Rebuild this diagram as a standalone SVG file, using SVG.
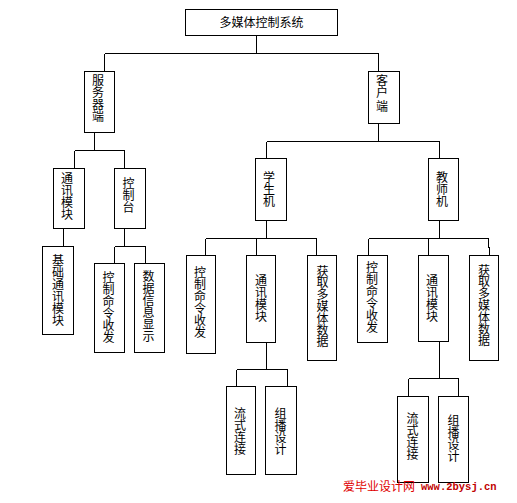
<svg xmlns="http://www.w3.org/2000/svg" width="517" height="503" viewBox="0 0 517 503">
<style>
  .box { fill: #ffffff; stroke: #000000; stroke-width: 1; shape-rendering: crispEdges; }
  .ln { fill: none; stroke: #000000; stroke-width: 1; shape-rendering: crispEdges; }
  .t { font-family: "Noto Sans CJK SC", "Noto Sans", sans-serif; font-size: 12px; fill: #000000; text-anchor: middle; }
  .v { font-family: "Noto Sans CJK SC", "Noto Sans", sans-serif; font-size: 12px; fill: #000000; writing-mode: vertical-rl; text-orientation: mixed; text-anchor: start; }
  .wm1 { font-family: "Noto Sans CJK SC", sans-serif; font-size: 12px; fill: #e00000; }
  .wm2 { font-family: "Liberation Mono", monospace; font-size: 10.5px; font-weight: bold; fill: #c00000; }
</style>
<rect x="0" y="0" width="517" height="503" fill="#ffffff"/>

<g id="connectors">
  <path class="ln" d="M256.5 35.5 V53.5 M104.5 53.5 H378.5 M104.5 53.5 V71.5 M378.5 53.5 V71.5"/>
  <path class="ln" d="M94.5 132.5 V150.5 M74.5 150.5 H124.5 M74.5 150.5 V168.5 M124.5 150.5 V168.5"/>
  <path class="ln" d="M63.5 228.5 V246.5"/>
  <path class="ln" d="M124.5 228.5 V246.5 M114.5 246.5 H145.5 M114.5 246.5 V263.5 M145.5 246.5 V263.5"/>
  <path class="ln" d="M378.5 123.5 V141.5 M266.5 141.5 H439.5 M266.5 141.5 V158.5 M439.5 141.5 V158.5"/>
  <path class="ln" d="M266.5 220.5 V238.5 M205.5 238.5 H316.5 M205.5 238.5 V255.5 M256.5 238.5 V255.5 M316.5 238.5 V255.5"/>
  <path class="ln" d="M266.5 342.5 V369.5 M236.5 369.5 H287.5 M236.5 369.5 V386.5 M287.5 369.5 V386.5"/>
  <path class="ln" d="M439.5 220.5 V238.5 M368.5 238.5 H488.5 M368.5 238.5 V255.5 M428.5 238.5 V255.5 M488.5 238.5 V247.5 H489.5 V255.5"/>
  <path class="ln" d="M439.5 341.5 V378.5 M408.5 378.5 H458.5 M408.5 378.5 V396.5 M458.5 378.5 V396.5"/>
</g>

<g id="root">
  <rect class="box" x="185.5" y="9.5" width="152" height="26"/>
  <text class="t" x="261.5" y="27">多媒体控制系统</text>
</g>

<g id="server">
  <rect class="box" x="84.5" y="71.5" width="30" height="61"/>
  <text class="v" x="98" y="74">服务器端</text>
</g>
<g id="server-comm">
  <rect class="box" x="53.5" y="168.5" width="31" height="60"/>
  <text class="v" x="67" y="172">通讯模块</text>
</g>
<g id="server-console">
  <rect class="box" x="114.5" y="168.5" width="31" height="60"/>
  <text class="v" x="128.5" y="177">控制台</text>
</g>
<g id="server-basic-comm">
  <rect class="box" x="42.5" y="246.5" width="31" height="88"/>
  <text class="v" x="58" y="254">基础通讯模块</text>
</g>
<g id="server-cmd">
  <rect class="box" x="94.5" y="263.5" width="30" height="89"/>
  <text class="v" x="108.5" y="271">控制命令收发</text>
</g>
<g id="server-display">
  <rect class="box" x="134.5" y="263.5" width="30" height="89"/>
  <text class="v" x="148.5" y="270">数据信息显示</text>
</g>

<g id="client">
  <rect class="box" x="368.5" y="71.5" width="31" height="52"/>
  <text class="v" x="382" y="74">客户 端</text>
</g>

<g id="student">
  <rect class="box" x="255.5" y="158.5" width="31" height="62"/>
  <text class="v" x="269" y="171">学生机</text>
</g>
<g id="student-cmd">
  <rect class="box" x="186.5" y="255.5" width="29" height="98"/>
  <text class="v" x="200" y="266">控制命令收发</text>
</g>
<g id="student-comm">
  <rect class="box" x="246.5" y="255.5" width="29" height="87"/>
  <text class="v" x="261" y="274">通讯模块</text>
</g>
<g id="student-media">
  <rect class="box" x="307.5" y="255.5" width="29" height="105"/>
  <text class="v" x="322.5" y="265" letter-spacing="-0.2">获取多媒体数据</text>
</g>
<g id="student-stream">
  <rect class="box" x="226.5" y="386.5" width="29" height="88"/>
  <text class="v" x="240" y="407">流式连接</text>
</g>
<g id="student-multicast">
  <rect class="box" x="265.5" y="386.5" width="31" height="88"/>
  <text class="v" x="280.5" y="407">组播设计</text>
</g>

<g id="teacher">
  <rect class="box" x="428.5" y="158.5" width="30" height="62"/>
  <text class="v" x="442" y="171">教师机</text>
</g>
<g id="teacher-cmd">
  <rect class="box" x="357.5" y="255.5" width="30" height="87"/>
  <text class="v" x="372" y="261">控制命令收发</text>
</g>
<g id="teacher-comm">
  <rect class="box" x="418.5" y="255.5" width="30" height="86"/>
  <text class="v" x="432" y="274">通讯模块</text>
</g>
<g id="teacher-media">
  <rect class="box" x="469.5" y="255.5" width="29" height="105"/>
  <text class="v" x="484" y="264" letter-spacing="-0.2">获取多媒体数据</text>
</g>
<g id="teacher-stream">
  <rect class="box" x="397.5" y="396.5" width="31" height="86"/>
  <text class="v" x="412.5" y="412">流式连接</text>
</g>
<g id="teacher-multicast">
  <rect class="box" x="438.5" y="396.5" width="30" height="86"/>
  <text class="v" x="453.5" y="414">组播设计</text>
</g>

<g id="watermark">
  <text class="wm1" x="343" y="491">爱毕业设计网</text>
  <text class="wm2" x="421" y="490">www.2bysj.cn</text>
</g>
</svg>
